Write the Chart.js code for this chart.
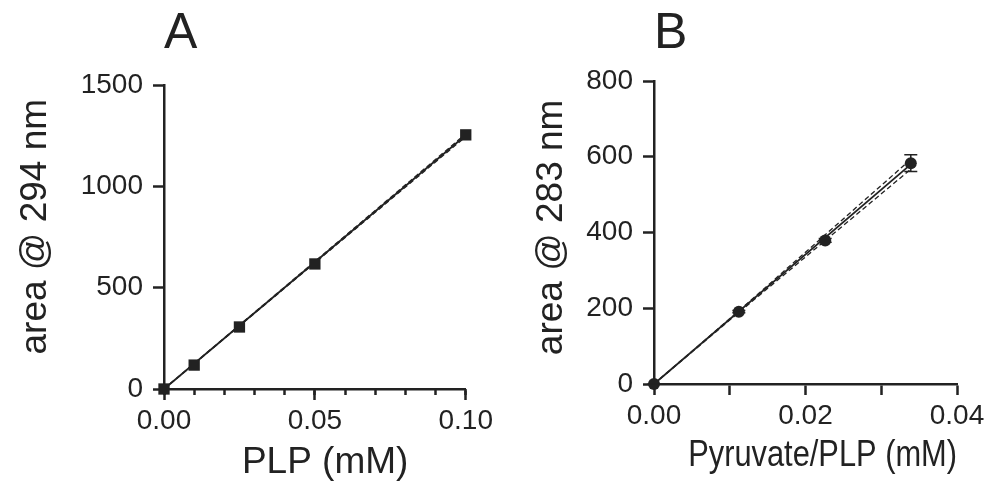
<!DOCTYPE html>
<html>
<head>
<meta charset="utf-8">
<script src="https://cdn.jsdelivr.net/npm/chart.js@4.4.1/dist/chart.umd.min.js"></script>
<style>
  body { margin: 0; background: #fff; }
  #wrap { position: relative; width: 995px; height: 485px; }
  .panel { position: absolute; top: 0; height: 485px; }
  #panelA { left: 0; width: 497px; }
  #panelB { left: 497px; width: 498px; }
</style>
</head>
<body>
<div id="wrap">
  <div class="panel" id="panelA"><canvas id="chartA"></canvas></div>
  <div class="panel" id="panelB"><canvas id="chartB"></canvas></div>
</div>
<script>
// panel A: PLP standard curve
const plpConc = [0, 0.01, 0.025, 0.05, 0.1];
const plpArea = [0, 118, 306, 617, 1254];
const plpFitX = [0, 0.1];
const plpFitY = [0, 1252];
const plpUpperY = [0, 1259];
const plpLowerY = [0, 1245];

// panel B: pyruvate/PLP adduct
const pyrConc = [0, 0.0112, 0.0226, 0.0339];
const pyrArea = [0, 191, 379, 583];
const pyrErr = [0, 3, 5, 22];
const pyrFitX = [0, 0.0339];
const pyrFitY = [0, 580];
const pyrBandX = [0, 0.0112, 0.0339];
const pyrUpperY = [0, 193, 593];
const pyrLowerY = [0, 189, 567];

const ink = "#222";
const family = "'Liberation Sans', Arial, sans-serif";

function toPoints(xs, ys) {
  return xs.map((x, i) => ({ x: x, y: ys[i] }));
}

const errorBars = {
  id: "errorBars",
  afterDatasetsDraw(chart, args, opts) {
    if (!opts.xs) return;
    const ctx = chart.ctx;
    const x = chart.scales.x;
    const y = chart.scales.y;
    ctx.save();
    ctx.strokeStyle = ink;
    ctx.lineWidth = 1.5;
    for (let i = 0; i < opts.xs.length; i++) {
      const px = x.getPixelForValue(opts.xs[i]);
      const top = y.getPixelForValue(opts.ys[i] + opts.err[i]);
      const bot = y.getPixelForValue(opts.ys[i] - opts.err[i]);
      ctx.beginPath();
      ctx.moveTo(px, top);
      ctx.lineTo(px, bot);
      ctx.moveTo(px - 6.5, top);
      ctx.lineTo(px + 6.5, top);
      ctx.moveTo(px - 6.5, bot);
      ctx.lineTo(px + 6.5, bot);
      ctx.stroke();
    }
    ctx.restore();
  }
};

function lineSet(data, dashed) {
  return {
    data: data,
    showLine: true,
    borderColor: ink,
    borderWidth: dashed ? 1.3 : 1.8,
    borderDash: dashed ? [5, 3] : [],
    pointRadius: 0,
    clip: false
  };
}

function axisGrid(len) {
  return {
    display: true,
    drawOnChartArea: false,
    drawTicks: true,
    tickLength: len,
    tickColor: ink,
    tickWidth: 2.5
  };
}

function makePanel(el, p) {
  const scales = {
    x: {
      type: "linear",
      min: p.xMin,
      max: p.xMax,
      afterFit: (s) => { s.height = p.xHeight; },
      border: { display: true, color: ink, width: 2.5 },
      grid: axisGrid(11),
      ticks: {
        stepSize: p.xStep,
        autoSkip: false,
        maxRotation: 0,
        color: ink,
        padding: 4,
        font: { size: 28, family: family },
        callback: (v) => {
          const r = v / p.xLabelStep;
          return Math.abs(r - Math.round(r)) < 1e-6 ? v.toFixed(2) : "";
        }
      },
      title: {
        display: true,
        text: p.xTitle,
        color: ink,
        font: { size: 37, family: family, lineHeight: 1.2 },
        padding: { top: 0, bottom: p.xTitlePad }
      }
    },
    y: {
      type: "linear",
      min: p.yMin,
      max: p.yMax,
      afterFit: (s) => { s.width = p.yWidth; },
      border: { display: true, color: ink, width: 2.5 },
      grid: axisGrid(11),
      ticks: {
        stepSize: p.yStep,
        color: ink,
        padding: 10,
        font: { size: 28, family: family },
        callback: (v) => String(v)
      },
      title: {
        display: true,
        text: p.yTitle,
        color: ink,
        font: { size: 37, family: family, lineHeight: 1.2 },
        padding: { top: p.yTitlePad, bottom: 0 }
      }
    }
  };
  if (p.minorStep) {
    // shorter minor ticks sitting on the x axis line
    scales.x2 = {
      type: "linear",
      position: { y: p.yMin },
      min: p.xMin,
      max: p.xMax,
      afterFit: (s) => { s.height = 0; },
      border: { display: false },
      grid: axisGrid(6),
      ticks: { stepSize: p.minorStep, display: false }
    };
  }

  new Chart(el, {
    type: "scatter",
    data: { datasets: p.datasets },
    options: {
      responsive: true,
      maintainAspectRatio: false,
      animation: false,
      layout: { autoPadding: false, padding: { left: 0, right: p.padRight, top: 0, bottom: 0 } },
      plugins: {
        legend: { display: false },
        tooltip: { enabled: false },
        title: {
          display: true,
          text: p.letter,
          align: "start",
          fullSize: false,
          color: ink,
          font: { size: 50, family: family, weight: "normal", lineHeight: 1 },
          padding: { top: 9, bottom: p.letterPad }
        },
        errorBars: p.errors || {}
      },
      scales: scales
    },
    plugins: [errorBars]
  });
}

makePanel(document.getElementById("chartA"), {
  letter: "A",
  letterPad: 26,
  xMin: 0, xMax: 0.1, xStep: 0.05, xLabelStep: 0.05, minorStep: 0.01,
  yMin: 0, yMax: 1500, yStep: 500,
  xTitle: "  PLP (mM)",
  yTitle: "  area @ 294 nm",
  xHeight: 96, yWidth: 164, padRight: 30,
  xTitlePad: 0, yTitlePad: 14,
  datasets: [
    {
      data: toPoints(plpConc, plpArea),
      pointStyle: "rect",
      pointRadius: 8,
      pointBackgroundColor: ink,
      pointBorderWidth: 0,
      clip: false
    },
    lineSet(toPoints(plpFitX, plpFitY), false),
    lineSet(toPoints(plpFitX, plpUpperY), true),
    lineSet(toPoints(plpFitX, plpLowerY), true)
  ]
});

makePanel(document.getElementById("chartB"), {
  letter: "B",
  letterPad: 22,
  xMin: 0, xMax: 0.04, xStep: 0.01, xLabelStep: 0.02,
  yMin: 0, yMax: 800, yStep: 200,
  xTitle: "    Pyruvate/PLP (mM)",
  yTitle: " area @ 283 nm",
  xHeight: 101, yWidth: 157, padRight: 38,
  xTitlePad: 7, yTitlePad: 33,
  errors: { xs: pyrConc, ys: pyrArea, err: pyrErr },
  datasets: [
    {
      data: toPoints(pyrConc, pyrArea),
      pointStyle: "circle",
      pointRadius: 6,
      pointBackgroundColor: ink,
      pointBorderWidth: 0,
      clip: false
    },
    lineSet(toPoints(pyrFitX, pyrFitY), false),
    lineSet(toPoints(pyrBandX, pyrUpperY), true),
    lineSet(toPoints(pyrBandX, pyrLowerY), true)
  ]
});
</script>
</body>
</html>
